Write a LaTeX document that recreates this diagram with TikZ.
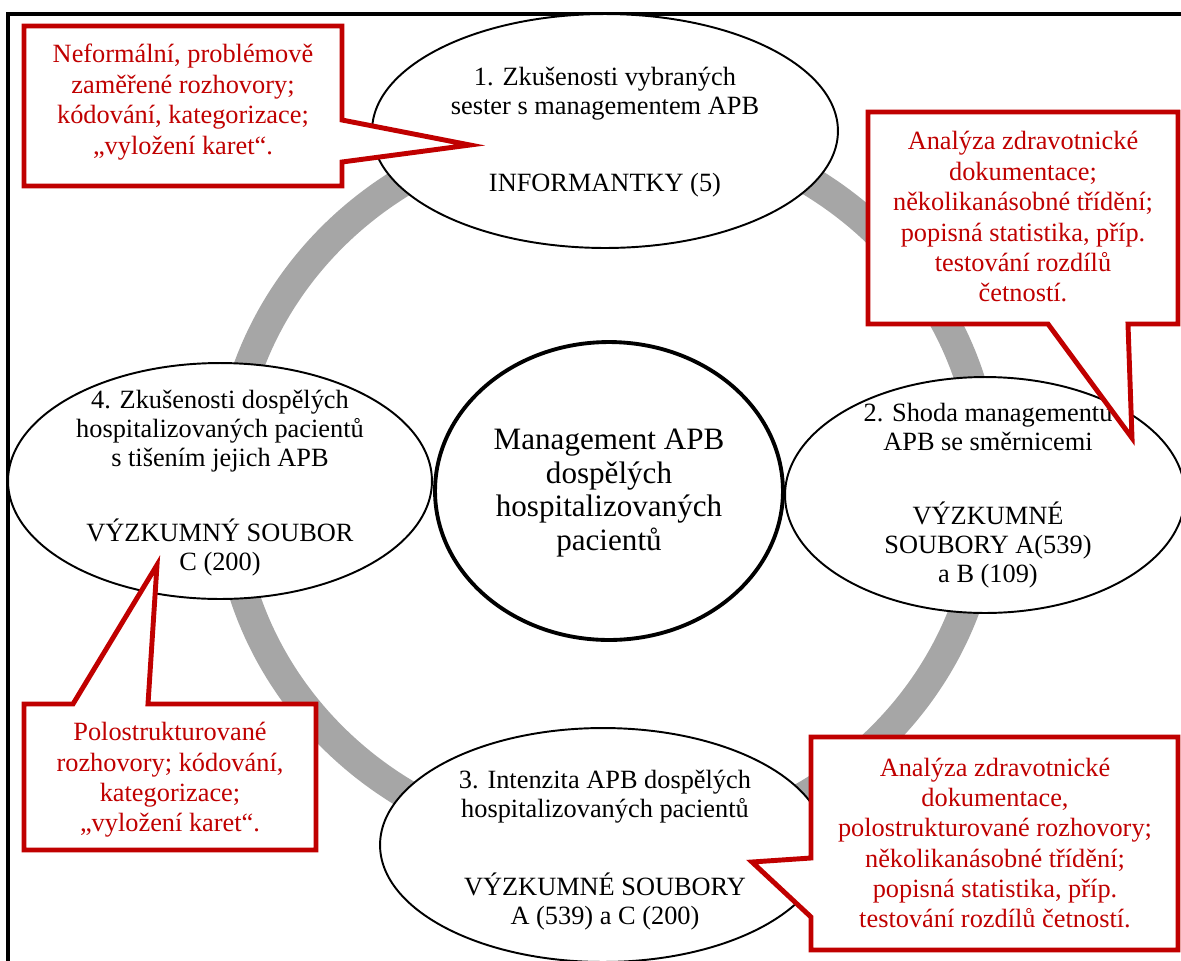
\documentclass[tikz,border=0pt]{standalone}
\usepackage{fontspec}
\setmainfont{Liberation Serif}
\usepackage{xcolor}
\usepackage{tikz}
\usetikzlibrary{shapes.geometric}

\definecolor{apbred}{HTML}{C00000}
\definecolor{ringgray}{HTML}{A6A6A6}

\begin{document}
\begin{tikzpicture}[
        x = 0.02cm, y = -0.02cm,
        bubble/.style = {ellipse, draw=black, fill=white, line width=1.1pt, inner sep=0pt},
        bubbletext/.style = {align=center, font=\fontsize{15}{16.5}\selectfont},
        note/.style = {align=center, text=apbred, font=\fontsize{15}{17.3}\selectfont},
    ]
    \tikzstyle{notebox} = [draw=apbred, fill=white, line width=2.8pt, line join=miter];
    \useasboundingbox (0,0) rectangle (1181,961);
    \draw [line width=2pt] (8,14) rectangle (1240,1020);
    \draw [ringgray, line width=17pt] (607,487) ellipse [x radius=7.6cm, y radius=7.24cm];
    % ellipses
    \node [bubble, minimum width=9.32cm, minimum height=4.68cm] (e1) at (605,131) {};
    \node [bubble, minimum width=8.0cm, minimum height=4.72cm] (e2) at (985,495) {};
    \node [bubble, minimum width=8.92cm, minimum height=4.68cm] (e3) at (603,845) {};
    \node [bubble, minimum width=8.48cm, minimum height=4.72cm] (e4) at (220,481) {};
    \node [bubble, line width=2.2pt, minimum width=6.96cm, minimum height=5.96cm] (e0) at (609,491) {};
    \node [bubbletext] (l1) at (605,132) {1. Zkušenosti vybraných\\sester s managementem APB\\[27pt]INFORMANTKY (5)};
    \node [bubbletext] (l2) at (988,496) {2. Shoda managementu\\APB se směrnicemi\\[25.5pt]VÝZKUMNÉ\\SOUBORY A(539)\\a B (109)};
    \node [bubbletext] (l3) at (605,850) {3. Intenzita APB dospělých\\hospitalizovaných pacientů\\[28pt]VÝZKUMNÉ SOUBORY\\A (539) a C (200)};
    \node [bubbletext] (l4) at (220,483) {4. Zkušenosti dospělých\\hospitalizovaných pacientů\\s tišením jejich APB\\[26.5pt]VÝZKUMNÝ SOUBOR\\C (200)};
    \node [align=center, font=\fontsize{17.7}{19}\selectfont] (l0) at (609,493) {Management APB\\dospělých\\hospitalizovaných\\pacientů};
    % callouts
    \coordinate (tip1) at (470,145);
    \coordinate (tip2) at (1132,438);
    \coordinate (tip3) at (157,565);
    \coordinate (tip4) at (752,862);
    \draw [notebox] (24,26) -| (342,120) -- (tip1) -- (342,162) |- (24,186) -- cycle;
    \draw [notebox] (868,112) -| (1178,324) -- (1128,324) -- (tip2) -- (1048,324) -- (868,324) -- cycle;
    \draw [notebox] (24,850) |- (73,704) -- (tip3) -- (148,704) -| (316,850) -- cycle;
    \draw [notebox] (1178,950) -| (811,917) -- (tip4) -- (811,858) |- (1178,737) -- cycle;
    \node [note] (n1) at (183,102) {Neformální, problémově\\zaměřené rozhovory;\\kódování, kategorizace;\\„vyložení karet“.};
    \node [note] (n2) at (1023,217) {Analýza zdravotnické\\dokumentace;\\několikanásobné třídění;\\popisná statistika, příp.\\testování rozdílů\\četností.};
    \node [note] (n3) at (170,780) {Polostrukturované\\rozhovory; kódování,\\kategorizace;\\„vyložení karet“.};
    \node [note] (n4) at (995,843) {Analýza zdravotnické\\dokumentace,\\polostrukturované rozhovory;\\několikanásobné třídění;\\popisná statistika, příp.\\testování rozdílů četností.};
\end{tikzpicture}
\end{document}
